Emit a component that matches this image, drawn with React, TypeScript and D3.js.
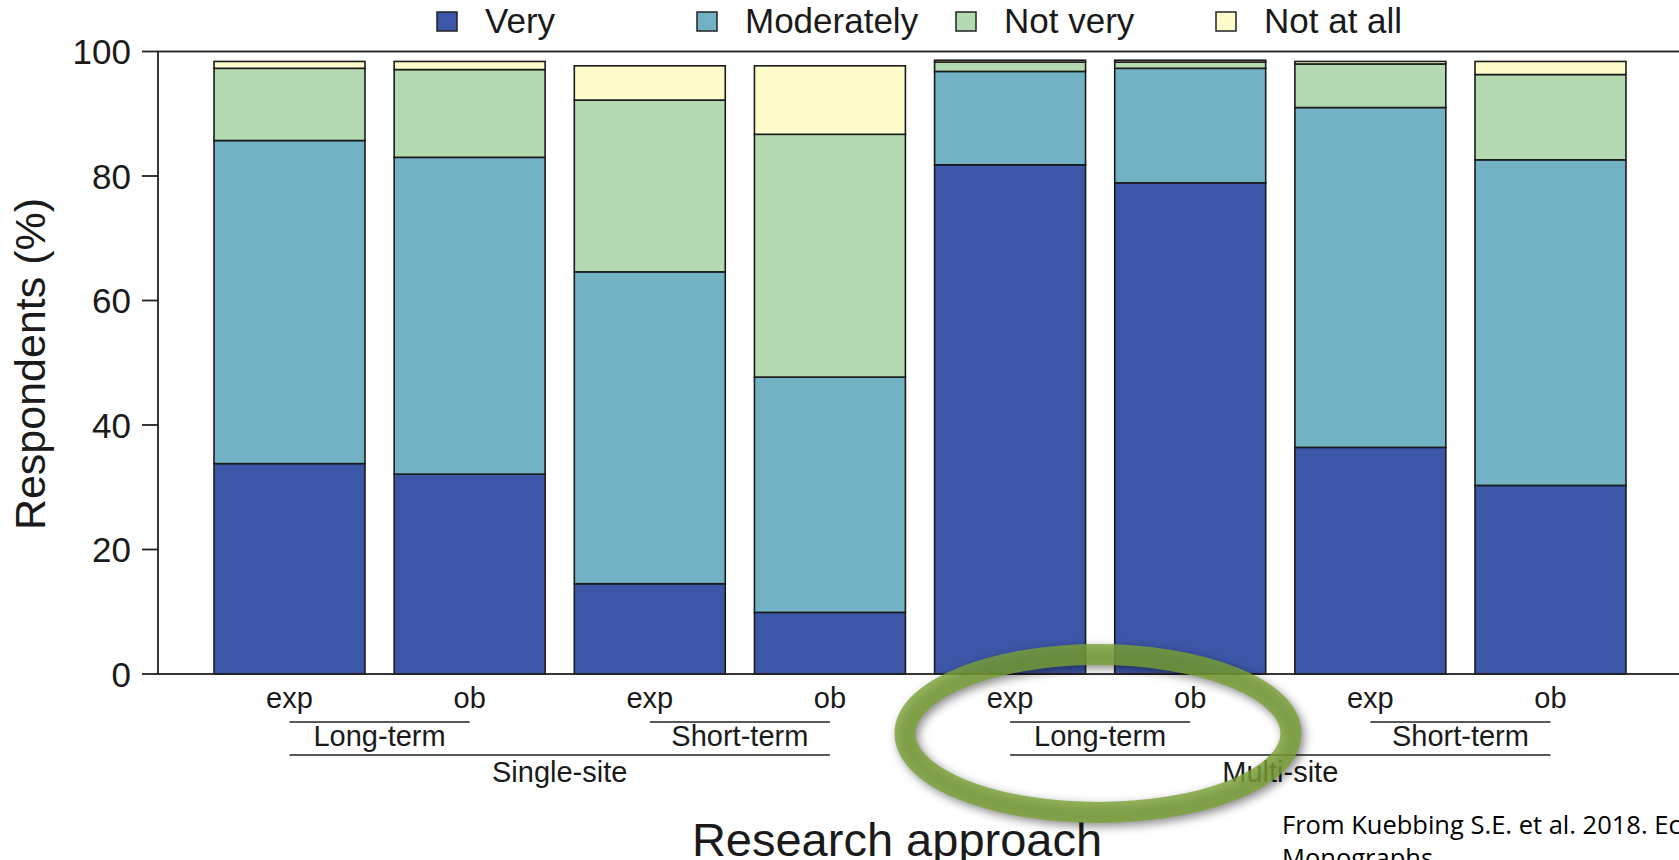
import React from 'react';
import * as d3 from 'd3';

// Response categories (stack order, bottom to top) and their fills
const responses = ['Very', 'Moderately', 'Not very', 'Not at all'];
const fills = ['#3c56a8', '#72b2c4', '#b3dab0', '#fffccc'];

// One bar per research approach
const barIds = ['S-L-exp', 'S-L-ob', 'S-S-exp', 'S-S-ob', 'M-L-exp', 'M-L-ob', 'M-S-exp', 'M-S-ob'];
const approachLabels = ['exp', 'ob', 'exp', 'ob', 'exp', 'ob', 'exp', 'ob'];

// Share of respondents (%) per response
const very = [33.8, 32.1, 14.5, 9.9, 81.8, 78.9, 36.4, 30.3];
const moderately = [51.9, 50.9, 50.1, 37.8, 15.0, 18.4, 54.6, 52.3];
const notVery = [11.6, 14.1, 27.6, 39.0, 1.5, 1.0, 7.0, 13.7];
const notAtAll = [1.1, 1.3, 5.5, 11.0, 0.3, 0.3, 0.4, 2.1];

// Grouping brackets under the axis: [label, first bar, last bar]
const durationGroups: [string, number, number][] = [
  ['Long-term', 0, 1],
  ['Short-term', 2, 3],
  ['Long-term', 4, 5],
  ['Short-term', 6, 7],
];
const siteGroups: [string, number, number][] = [
  ['Single-site', 0, 3],
  ['Multi-site', 4, 7],
];

const yTicks = [0, 20, 40, 60, 80, 100];

const W = 1679;
const H = 860;
const plot = { left: 158, right: 1682, top: 51.5, bottom: 674 };
const font = '"Liberation Sans", Arial, sans-serif';

export default function App() {
  const rows = barIds.map((id, i) => ({
    id,
    Very: very[i],
    Moderately: moderately[i],
    'Not very': notVery[i],
    'Not at all': notAtAll[i],
  }));

  const x = d3
    .scaleBand<string>()
    .domain(barIds)
    .range([plot.left, plot.right])
    .paddingInner(0.162)
    .paddingOuter(0.311);

  const y = d3.scaleLinear().domain([0, 100]).range([plot.bottom, plot.top]);

  const series = d3.stack<any>().keys(responses)(rows);

  const cx = (i: number) => (x(barIds[i]) as number) + x.bandwidth() / 2;

  const legendX = [437, 697, 956, 1216];

  return (
    <svg
      width={W}
      height={H}
      style={{ position: 'absolute', left: 0, top: 0, display: 'block', background: '#fff' }}
      fontFamily={font}
    >
      <defs>
        <filter id="ringShadow" x="-20%" y="-30%" width="140%" height="160%">
          <feGaussianBlur stdDeviation="5" />
        </filter>
      </defs>
      <rect x={0} y={0} width={W} height={H} fill="#fff" />

      {/* Legend */}
      {responses.map((r, i) => (
        <g key={r}>
          <rect
            x={legendX[i]}
            y={12}
            width={20}
            height={19}
            fill={fills[i]}
            stroke="#222"
            strokeWidth={1.5}
          />
          <text x={legendX[i] + 48} y={33} fontSize={35} fill="#1a1a1a">
            {r}
          </text>
        </g>
      ))}

      {/* Stacked bars */}
      {series.map((s, si) => (
        <g key={s.key} fill={fills[si]}>
          {s.map((d, i) => (
            <rect
              key={barIds[i]}
              x={x(barIds[i])}
              y={y(d[1])}
              width={x.bandwidth()}
              height={y(d[0]) - y(d[1])}
              stroke="#1a1a1a"
              strokeWidth={1.6}
            />
          ))}
        </g>
      ))}

      {/* Frame */}
      <rect
        x={plot.left}
        y={plot.top}
        width={plot.right - plot.left}
        height={plot.bottom - plot.top}
        fill="none"
        stroke="#222"
        strokeWidth={1.8}
      />

      {/* Y axis ticks and labels */}
      {yTicks.map((t) => (
        <g key={t}>
          <line x1={plot.left - 16} x2={plot.left} y1={y(t)} y2={y(t)} stroke="#222" strokeWidth={1.8} />
          <text
            x={131}
            y={y(t)}
            dy="0.36em"
            textAnchor="end"
            fontSize={35}
            fill="#1a1a1a"
          >
            {t}
          </text>
        </g>
      ))}
      <text
        transform={`translate(45, 364) rotate(-90)`}
        textAnchor="middle"
        fontSize={43}
        fill="#1a1a1a"
      >
        Respondents (%)
      </text>

      {/* Approach labels */}
      {approachLabels.map((l, i) => (
        <text key={i} x={cx(i)} y={708} textAnchor="middle" fontSize={29} fill="#1a1a1a">
          {l}
        </text>
      ))}

      {/* Duration brackets */}
      {durationGroups.map(([label, a, b], i) => (
        <g key={i}>
          <line x1={cx(a)} x2={cx(b)} y1={722} y2={722} stroke="#222" strokeWidth={1.6} />
          <text x={(cx(a) + cx(b)) / 2} y={746} textAnchor="middle" fontSize={29} fill="#1a1a1a">
            {label}
          </text>
        </g>
      ))}

      {/* Site brackets */}
      {siteGroups.map(([label, a, b], i) => (
        <g key={i}>
          <line x1={cx(a)} x2={cx(b)} y1={755} y2={755} stroke="#222" strokeWidth={1.6} />
          <text x={(cx(a) + cx(b)) / 2} y={782} textAnchor="middle" fontSize={29} fill="#1a1a1a">
            {label}
          </text>
        </g>
      ))}

      {/* X axis title */}
      <text x={897} y={856} textAnchor="middle" fontSize={47} fill="#1a1a1a">
        Research approach
      </text>

      {/* Source note */}
      <text x={1282} y={834} fontSize={25.5} fontFamily='"Open Sans", sans-serif' fill="#000">
        From Kuebbing S.E. et al. 2018. Ecological
      </text>
      <text x={1282} y={867} fontSize={25.5} fontFamily='"Open Sans", sans-serif' fill="#000">
        Monographs
      </text>

      {/* Highlight ring around the multi-site long-term bars */}
      <ellipse
        cx={1101}
        cy={737}
        rx={193}
        ry={79}
        fill="none"
        stroke="#000"
        strokeOpacity={0.45}
        strokeWidth={21}
        filter="url(#ringShadow)"
      />
      <ellipse
        cx={1098}
        cy={733.5}
        rx={193}
        ry={79}
        fill="none"
        stroke="#7aa236"
        strokeOpacity={0.8}
        strokeWidth={21}
      />
    </svg>
  );
}
